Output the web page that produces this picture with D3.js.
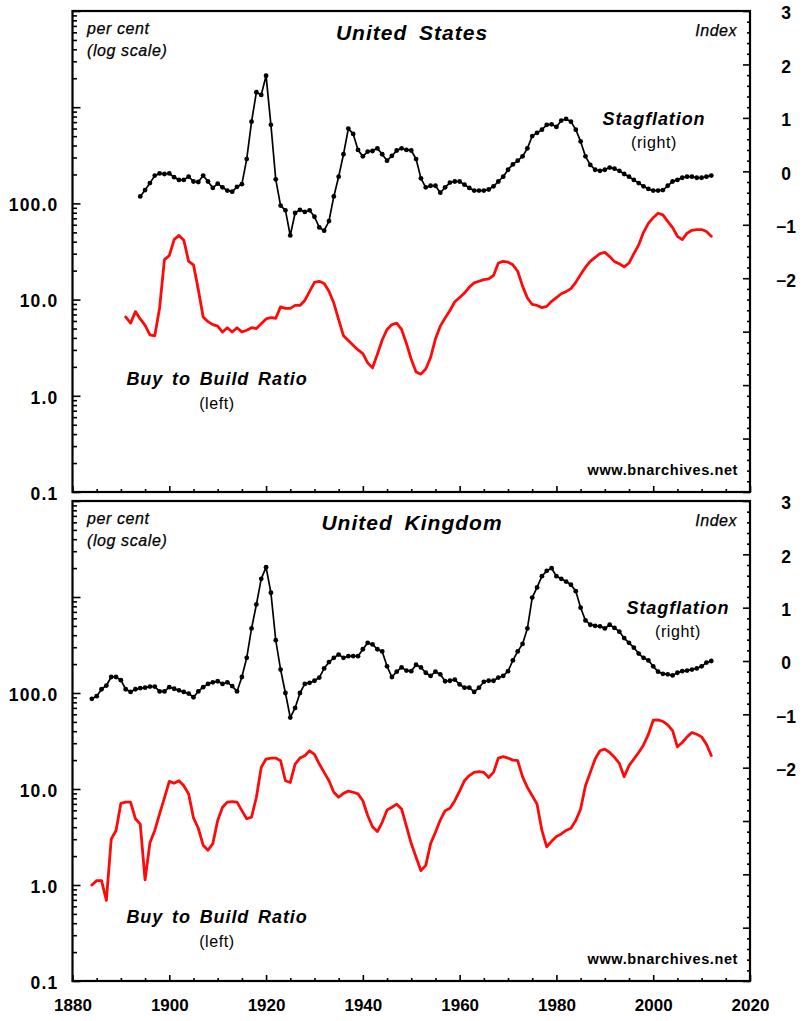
<!DOCTYPE html>
<html><head><meta charset="utf-8">
<script src="https://cdn.jsdelivr.net/npm/d3@7"></script>
<style>
html,body{margin:0;padding:0;background:#fff;}
svg{display:block;font-family:"Liberation Sans",Arial,Helvetica,sans-serif;}
</style></head>
<body><svg id="chart" width="803" height="1021"></svg>
<script>
// ---------------- DATA ----------------
const usStagStart = 1894;
const usStag = [-0.47,-0.35,-0.22,-0.08,-0.04,-0.05,-0.04,-0.11,-0.16,-0.16,
 -0.10,-0.19,-0.20,-0.08,-0.19,-0.31,-0.23,-0.30,-0.36,-0.38,
 -0.29,-0.24,0.23,0.93,1.48,1.43,1.79,0.87,-0.15,-0.64,
 -0.73,-1.20,-0.78,-0.72,-0.76,-0.73,-0.85,-1.05,-1.11,-0.93,
 -0.47,-0.10,0.32,0.80,0.70,0.40,0.28,0.37,0.38,0.43,
 0.32,0.20,0.29,0.39,0.43,0.40,0.39,0.23,-0.13,-0.30,
 -0.27,-0.27,-0.40,-0.30,-0.21,-0.19,-0.19,-0.25,-0.31,-0.36,
 -0.36,-0.36,-0.34,-0.28,-0.19,-0.10,0.03,0.13,0.20,0.28,
 0.43,0.66,0.72,0.78,0.87,0.88,0.83,0.95,0.98,0.93,
 0.78,0.56,0.28,0.12,0.03,0.01,0.03,0.07,0.05,0.01,
 -0.05,-0.10,-0.16,-0.22,-0.28,-0.33,-0.36,-0.36,-0.35,-0.27,
 -0.19,-0.16,-0.12,-0.10,-0.10,-0.12,-0.12,-0.10,-0.08];

const usBuyStart = 1891;
const usBuy = [6.6,5.7,7.5,6.3,5.4,4.3,4.2,8.2,26,28.6,
 42,46.5,41.5,25,23,12.7,6.6,5.9,5.5,5.3,
 4.6,5.1,4.6,5.1,4.6,4.8,5.1,5.0,5.6,6.3,
 6.5,6.4,8.4,8.1,8.1,8.7,8.7,9.8,12.2,15.1,
 15.5,14.7,12.2,9.2,6.2,4.2,3.75,3.35,3.0,2.75,
 2.2,1.95,2.7,3.8,4.9,5.5,5.7,4.9,3.5,2.4,
 1.77,1.68,1.9,2.5,3.9,5.3,6.45,7.7,9.5,10.5,
 11.7,13.5,14.9,15.5,16.1,16.4,17.8,24,25,24.5,
 23,19.7,13.8,10.4,8.9,8.7,8.25,8.5,9.6,10.5,
 11.5,12.1,13.0,15.1,18.2,21.7,25,27.5,30,31,
 28,24.8,23.6,21.9,24,30,37,50,62,71,
 79,76,65,56,45.5,42,49,52.5,53.5,53.5,
 51,45.5];

const ukStagStart = 1884;
const ukStag = [-0.71,-0.66,-0.53,-0.46,-0.30,-0.30,-0.36,-0.53,-0.58,-0.53,
 -0.51,-0.50,-0.48,-0.48,-0.57,-0.57,-0.49,-0.52,-0.55,-0.58,
 -0.61,-0.68,-0.57,-0.49,-0.43,-0.40,-0.38,-0.43,-0.40,-0.47,
 -0.57,-0.30,0.06,0.61,1.06,1.54,1.76,1.28,0.39,-0.16,
 -0.60,-1.06,-0.88,-0.60,-0.43,-0.41,-0.37,-0.31,-0.14,-0.02,
 0.06,0.12,0.06,0.09,0.09,0.09,0.22,0.34,0.31,0.22,
 0.18,-0.10,-0.30,-0.20,-0.12,-0.18,-0.19,-0.07,-0.12,-0.22,
 -0.28,-0.20,-0.25,-0.38,-0.37,-0.35,-0.44,-0.50,-0.50,-0.58,
 -0.50,-0.39,-0.37,-0.37,-0.31,-0.28,-0.19,0.01,0.18,0.32,
 0.61,1.19,1.38,1.59,1.69,1.74,1.59,1.54,1.49,1.43,
 1.31,1.00,0.76,0.68,0.66,0.65,0.61,0.68,0.62,0.55,
 0.43,0.34,0.25,0.14,0.06,0.01,-0.10,-0.20,-0.24,-0.25,
 -0.27,-0.22,-0.19,-0.18,-0.16,-0.14,-0.10,-0.03,0.00];

const ukBuyStart = 1884;
const ukBuy = [1.0,1.11,1.11,0.69,3.0,3.7,7.1,7.3,7.3,4.9,
 4.3,1.13,2.75,3.7,5.5,8.1,12.0,11.5,12.2,10.8,
 8.9,5.0,3.9,2.6,2.3,2.7,4.7,6.45,7.3,7.4,
 7.3,5.95,4.9,5.1,8.2,16.8,20.5,21,21,19.7,
 12.2,11.7,18.2,21,22.2,25,23,18.2,14.9,12.2,
 9.25,8.2,9.0,9.5,9.25,8.9,7.55,5.3,4.05,3.6,
 4.5,6.05,6.45,6.95,6.2,4.1,2.7,1.95,1.41,1.6,
 2.7,3.55,4.75,5.95,6.3,7.55,9.5,12.2,13.8,14.9,
 15.2,14.9,13.2,14.9,21,21.7,21,20,19.7,13.4,
 10.4,8.5,6.95,3.7,2.5,2.85,3.2,3.4,3.7,3.9,
 4.7,6.2,10.8,14.9,20.5,25,26,24,21.4,18.5,
 13.4,17.5,20.5,24,28.8,37,52,52.5,50.5,46.5,
 40.5,27.5,30.5,34.9,38.8,37.2,34.9,29.3,22.3];

const panelTitles = ["United States", "United Kingdom"];
const leftTickValues = [0.1, 1, 10, 100];
const leftTickLabels = ["0.1", "1.0", "10.0", "100.0"];
const rightTickValues = [-2, -1, 0, 1, 2, 3];
const xTickValues = [1880, 1900, 1920, 1940, 1960, 1980, 2000, 2020];

// ---------------- LAYOUT ----------------
const svg = d3.select("#chart");
const X0 = 72.5, X1 = 750;
const panels = [
  {top: 11, bottom: 492, title: panelTitles[0], stag: usStag, stagStart: usStagStart, buy: usBuy, buyStart: usBuyStart,
   stagLab: [654, 125], buyLab: [217, 385]},
  {top: 501, bottom: 981, title: panelTitles[1], stag: ukStag, stagStart: ukStagStart, buy: ukBuy, buyStart: ukBuyStart,
   stagLab: [678, 614], buyLab: [217, 923]}
];
const RED = "#ff0a0a";
const FONT = '"Liberation Sans",Arial,sans-serif';

const x = d3.scaleLinear().domain([1880, 2020]).range([X0, X1]);

function styleAxis(g) {
  g.select(".domain").remove();
  g.selectAll("line").attr("stroke", "#000").attr("stroke-width", 1.6);
}

panels.forEach((p, pi) => {
  const yL = d3.scaleLog().domain([0.1, 10000]).range([p.bottom, p.top]);
  const yR = d3.scaleLinear().domain([-6, 3]).range([p.bottom, p.top]);
  const g = svg.append("g");

  // left major ticks + labels
  const leftMajor = g.append("g").attr("transform", `translate(${X0},0)`)
    .call(d3.axisLeft(yL).tickValues([0.1, 1, 10, 100, 1000, 10000]).tickSizeInner(-8).tickSizeOuter(0).tickPadding(14)
      .tickFormat(d => { const i = leftTickValues.indexOf(d); return i >= 0 ? leftTickLabels[i] : ""; }));
  styleAxis(leftMajor);
  leftMajor.selectAll("text").attr("font-size", 17.5).attr("font-weight", "bold").attr("fill", "#000")
    .attr("font-family", FONT).attr("dy", "0.42em").attr("letter-spacing", 1.2);

  // left minor ticks
  const minorVals = [];
  [0.1, 1, 10, 100, 1000].forEach(dec => { for (let k = 2; k <= 9; k++) minorVals.push(dec * k); });
  const leftMinor = g.append("g").attr("transform", `translate(${X0},0)`)
    .call(d3.axisLeft(yL).tickValues(minorVals).tickSizeInner(-4.5).tickSizeOuter(0).tickFormat(""));
  styleAxis(leftMinor);

  // right major ticks
  const rightMajor = g.append("g").attr("transform", `translate(${X1},0)`)
    .call(d3.axisRight(yR).tickValues(d3.range(-6, 4)).tickSizeInner(-7).tickSizeOuter(0).tickPadding(36)
      .tickFormat(d => rightTickValues.includes(d) ? d3.format("d")(d) : ""));
  styleAxis(rightMajor);
  rightMajor.selectAll("text").attr("font-size", 17.5).attr("font-weight", "bold").attr("fill", "#000")
    .attr("text-anchor", "middle").attr("font-family", FONT).attr("dy", "0.45em");

  // right minor ticks every 0.2
  const rMinor = [];
  for (let v = -6; v < 3; v++) for (let k = 1; k <= 4; k++) rMinor.push(v + k * 0.2);
  const rightMinor = g.append("g").attr("transform", `translate(${X1},0)`)
    .call(d3.axisRight(yR).tickValues(rMinor).tickSizeInner(-3).tickSizeOuter(0).tickFormat(""));
  styleAxis(rightMinor);

  // bottom ticks
  const bMajor = g.append("g").attr("transform", `translate(0,${p.bottom})`)
    .call(d3.axisBottom(x).tickValues(xTickValues).tickSizeInner(-6).tickSizeOuter(0).tickPadding(18)
      .tickFormat(pi === 1 ? d3.format("d") : ""));
  styleAxis(bMajor);
  bMajor.selectAll("text").attr("font-size", 17).attr("font-weight", "bold").attr("fill", "#000")
    .attr("font-family", FONT);
  const bMinorVals = d3.range(1885, 2020, 5).filter(v => v % 20 !== 0);
  const bMinor = g.append("g").attr("transform", `translate(0,${p.bottom})`)
    .call(d3.axisBottom(x).tickValues(bMinorVals).tickSizeInner(-3).tickSizeOuter(0).tickFormat(""));
  styleAxis(bMinor);

  // frame
  g.append("rect").attr("x", X0).attr("y", p.top).attr("width", X1 - X0).attr("height", p.bottom - p.top)
    .attr("fill", "none").attr("stroke", "#000").attr("stroke-width", 2.2);

  // buy-to-build (red, left log axis)
  const buyData = p.buy.map((v, i) => ({year: p.buyStart + i, v}));
  g.append("path").datum(buyData)
    .attr("fill", "none").attr("stroke", RED).attr("stroke-width", 2.8)
    .attr("stroke-linejoin", "round").attr("stroke-linecap", "round")
    .attr("d", d3.line().x(d => x(d.year)).y(d => yL(d.v)));

  // stagflation (black, right axis)
  const stagData = p.stag.map((v, i) => ({year: p.stagStart + i, v}));
  g.append("path").datum(stagData)
    .attr("fill", "none").attr("stroke", "#000").attr("stroke-width", 1.7)
    .attr("stroke-linejoin", "round")
    .attr("d", d3.line().x(d => x(d.year)).y(d => yR(d.v)));
  g.append("g").selectAll("circle").data(stagData).join("circle")
    .attr("cx", d => x(d.year)).attr("cy", d => yR(d.v)).attr("r", 2.4).attr("fill", "#000");

  // texts
  const t = p.top;
  g.append("text").attr("x", 87).attr("y", t + 23).text("per cent")
    .attr("font-size", 16).attr("font-style", "italic").attr("letter-spacing", 0.6)
    .attr("stroke", "#000").attr("stroke-width", 0.25);
  g.append("text").attr("x", 87).attr("y", t + 45).text("(log scale)")
    .attr("font-size", 16).attr("font-style", "italic").attr("letter-spacing", 0.6)
    .attr("stroke", "#000").attr("stroke-width", 0.25);
  g.append("text").attr("x", 412).attr("y", t + 29).attr("text-anchor", "middle").text(p.title)
    .attr("font-size", 21).attr("font-style", "italic").attr("font-weight", "bold")
    .attr("letter-spacing", 1.0).attr("word-spacing", 5);
  g.append("text").attr("x", 737).attr("y", t + 25).attr("text-anchor", "end").text("Index")
    .attr("font-size", 16).attr("font-style", "italic").attr("letter-spacing", 0.5)
    .attr("stroke", "#000").attr("stroke-width", 0.25);
  g.append("text").attr("x", p.stagLab[0]).attr("y", p.stagLab[1]).attr("text-anchor", "middle").text("Stagflation")
    .attr("font-size", 18).attr("font-style", "italic").attr("font-weight", "bold").attr("letter-spacing", 0.9);
  g.append("text").attr("x", p.stagLab[0]).attr("y", p.stagLab[1] + 23).attr("text-anchor", "middle").text("(right)")
    .attr("font-size", 16).attr("letter-spacing", 0.6);
  g.append("text").attr("x", p.buyLab[0]).attr("y", p.buyLab[1]).attr("text-anchor", "middle").text("Buy to Build Ratio")
    .attr("font-size", 18).attr("font-style", "italic").attr("font-weight", "bold")
    .attr("letter-spacing", 0.9).attr("word-spacing", 3);
  g.append("text").attr("x", p.buyLab[0]).attr("y", p.buyLab[1] + 24).attr("text-anchor", "middle").text("(left)")
    .attr("font-size", 16).attr("letter-spacing", 0.6);
  g.append("text").attr("x", 738).attr("y", p.bottom - 17).attr("text-anchor", "end").text("www.bnarchives.net")
    .attr("font-size", 14.5).attr("font-weight", "bold").attr("letter-spacing", 0.6);
});
</script></body></html>
